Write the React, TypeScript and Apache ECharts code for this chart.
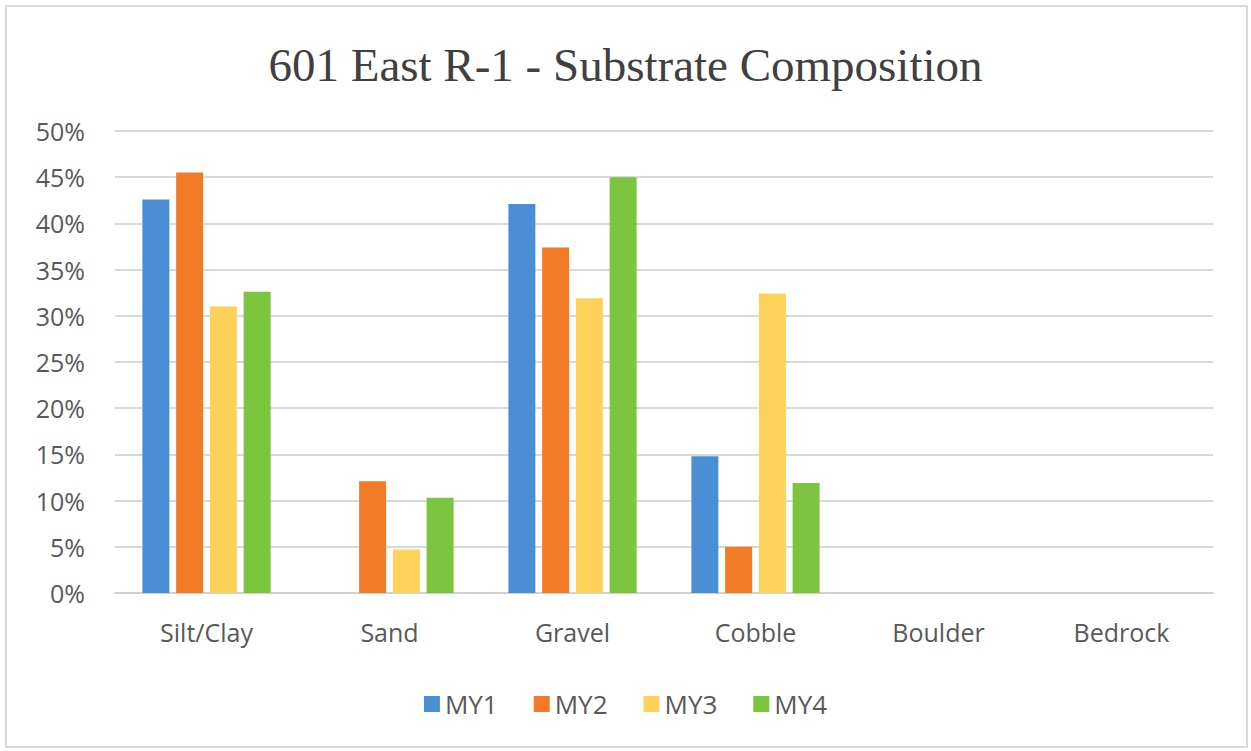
import React, { useEffect, useRef } from "react";
import * as echarts from "echarts";

const titleText = "601 East R-1 - Substrate Composition";
const categories = ["Silt/Clay", "Sand", "Gravel", "Cobble", "Boulder", "Bedrock"];
const seriesNames = ["MY1", "MY2", "MY3", "MY4"];
const my1 = [42.6, 0, 42.1, 14.8, 0, 0];
const my2 = [45.5, 12.1, 37.4, 5.0, 0, 0];
const my3 = [31.0, 4.7, 31.9, 32.4, 0, 0];
const my4 = [32.6, 10.3, 45.0, 11.9, 0, 0];
const seriesValues = [my1, my2, my3, my4];
const seriesColors = ["#4a8fd6", "#f27b28", "#fdd25a", "#7cc63f"];
const yMin = 0;
const yMax = 50;
const yStep = 5;

const FONT = "'Open Sans', 'Noto Sans', sans-serif";

export default function App() {
  const ref = useRef<HTMLDivElement>(null);
  useEffect(() => {
    document.body.style.margin = "0";
    const chart = echarts.init(ref.current!, null, { renderer: "svg" });
    chart.setOption({
      animation: false,
      backgroundColor: "#ffffff",
      title: {
        text: titleText,
        left: "center",
        top: 36,
        textStyle: {
          fontFamily: "'Liberation Serif', 'Times New Roman', serif",
          fontSize: 47,
          fontWeight: "normal",
          color: "#404040",
        },
      },
      graphic: [
        {
          type: "rect",
          shape: { x: 6, y: 6, width: 1241, height: 741 },
          style: { fill: "none", stroke: "#d9d9d9", lineWidth: 2 },
          silent: true,
        },
      ],
      legend: {
        data: seriesNames,
        left: "center",
        top: 686,
        icon: "rect",
        itemWidth: 16,
        itemHeight: 16,
        itemGap: 36,
        textStyle: { fontFamily: FONT, fontSize: 26, color: "#595959" },
      },
      grid: { left: 115, right: 38, top: 131, bottom: 158, containLabel: false },
      xAxis: {
        type: "category",
        data: categories,
        axisLine: { lineStyle: { color: "#d0d0d0", width: 2 } },
        axisTick: { show: false },
        axisLabel: { fontFamily: FONT, fontSize: 25, color: "#595959", margin: 26 },
      },
      yAxis: {
        type: "value",
        min: yMin,
        max: yMax,
        interval: yStep,
        axisLine: { show: false },
        axisTick: { show: false },
        axisLabel: {
          formatter: "{value}%",
          fontFamily: FONT,
          fontSize: 25,
          color: "#595959",
          margin: 30,
        },
        splitLine: { lineStyle: { color: "#d9d9d9", width: 2 } },
      },
      series: seriesNames.map((name, i) => ({
        name,
        type: "bar",
        data: seriesValues[i],
        barWidth: 27,
        barGap: "25%",
        itemStyle: { color: seriesColors[i] },
      })),
    });
    return () => chart.dispose();
  }, []);
  return <div ref={ref} style={{ position: "absolute", left: 0, top: 0, width: 1251, height: 751 }} />;
}
